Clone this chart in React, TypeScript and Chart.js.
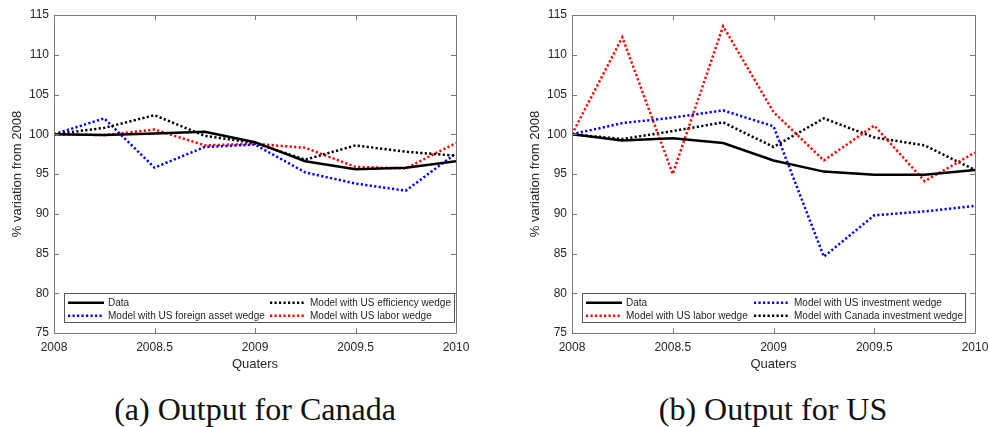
import React, { useEffect, useRef } from "react";
import { Chart, registerables } from "chart.js";

Chart.register(...registerables);

const quarters = [2008, 2008.25, 2008.5, 2008.75, 2009, 2009.25, 2009.5, 2009.75, 2010];
const xTickValues = [2008, 2008.5, 2009, 2009.5, 2010];
const yTickValues = [75, 80, 85, 90, 95, 100, 105, 110, 115];

// Panel (a): Canada
const caData = [100, 99.9, 100.1, 100.3, 99.0, 96.6, 95.6, 95.8, 96.6];
const caEfficiency = [100, 100.8, 102.4, 99.8, 98.9, 96.8, 98.6, 97.8, 97.3];
const caForeignAsset = [100, 102.0, 95.8, 98.4, 98.7, 95.2, 93.8, 92.9, 97.6];
const caLabor = [100, 99.9, 100.6, 98.6, 98.8, 98.3, 95.9, 95.7, 98.9];

// Panel (b): US
const usData = [100, 99.2, 99.5, 98.9, 96.7, 95.3, 94.9, 94.9, 95.5];
const usInvestment = [100, 101.4, 102.1, 103.0, 101.0, 84.6, 89.8, 90.3, 91.0];
const usLabor = [100, 112.2, 95.0, 113.6, 102.8, 96.7, 101.1, 94.1, 97.7];
const usCanadaInvestment = [100, 99.4, 100.4, 101.5, 98.4, 102.0, 99.6, 98.6, 95.5];

const caLabels = ["Data", "Model with US efficiency wedge", "Model with US foreign asset wedge", "Model with US labor wedge"];
const usLabels = ["Data", "Model with US investment wedge", "Model with US labor wedge", "Model with Canada investment wedge"];

const TXT = "#262626";
const FONT = "'Liberation Sans', Arial, sans-serif";
const DOT = [2.2, 2.3];

type SeriesDef = { label: string; values: number[]; color: string; dashed: boolean };

function toPoints(vals: number[]) {
  return quarters.map((q, i) => ({ x: q, y: vals[i] }));
}

type PanelProps = {
  series: SeriesDef[];
  legendOrder: number[];
  width: number;
  height: number;
  padLeft: number;
  padRight: number;
  legendCol2: number;
  legendRightInset: number;
};

function Panel(props: PanelProps) {
  const ref = useRef<HTMLCanvasElement | null>(null);
  useEffect(() => {
    const canvas = ref.current!;
    const frame = {
      id: "matlabFrame",
      afterDatasetsDraw(chart: any) {
        const { ctx, chartArea } = chart;
        const { left, right, top, bottom } = chartArea;
        const xs = chart.scales.x;
        const ys = chart.scales.y;
        ctx.save();
        ctx.strokeStyle = "#7a7a7a";
        ctx.lineWidth = 1;
        ctx.beginPath();
        ctx.rect(Math.round(left) + 0.5, Math.round(top) + 0.5, Math.round(right - left), Math.round(bottom - top));
        ctx.stroke();
        const tl = 5;
        ctx.beginPath();
        for (const v of xTickValues) {
          const px = Math.round(xs.getPixelForValue(v)) + 0.5;
          ctx.moveTo(px, bottom);
          ctx.lineTo(px, bottom - tl);
          ctx.moveTo(px, top);
          ctx.lineTo(px, top + tl);
        }
        for (const v of yTickValues) {
          const py = Math.round(ys.getPixelForValue(v)) + 0.5;
          ctx.moveTo(left, py);
          ctx.lineTo(left + tl, py);
          ctx.moveTo(right, py);
          ctx.lineTo(right - tl, py);
        }
        ctx.stroke();

        // axis titles
        ctx.fillStyle = TXT;
        ctx.font = `13px ${FONT}`;
        ctx.textAlign = "center";
        ctx.textBaseline = "middle";
        ctx.fillText("Quaters", (left + right) / 2, bottom + 31);
        ctx.save();
        ctx.translate(left - 37, (top + bottom) / 2);
        ctx.rotate(-Math.PI / 2);
        ctx.fillText("% variation from 2008", 0, 0);
        ctx.restore();

        // legend
        const bx = left + 10;
        const by = ys.getPixelForValue(80);
        const bw = right - props.legendRightInset - bx;
        const bh = 29;
        ctx.fillStyle = "#ffffff";
        ctx.fillRect(bx, by, bw, bh);
        ctx.strokeStyle = "#555555";
        ctx.lineWidth = 1;
        ctx.strokeRect(Math.round(bx) + 0.5, Math.round(by) + 0.5, Math.round(bw), Math.round(bh));
        const rows = [by + 9.5, by + 22.5];
        const cols = [left + 14, left + props.legendCol2];
        ctx.font = `10px ${FONT}`;
        ctx.textAlign = "left";
        props.legendOrder.forEach((si, k) => {
          const s = props.series[si];
          const r = Math.floor(k / 2);
          const c = k % 2;
          const x0 = cols[c];
          const y0 = rows[r];
          ctx.strokeStyle = s.color;
          ctx.lineWidth = 2.5;
          ctx.setLineDash(s.dashed ? DOT : []);
          ctx.beginPath();
          ctx.moveTo(x0, y0);
          ctx.lineTo(x0 + 36, y0);
          ctx.stroke();
          ctx.setLineDash([]);
          ctx.fillStyle = TXT;
          ctx.fillText(s.label, x0 + 40, y0 + 0.5);
        });
        ctx.restore();
      },
    };

    const chart = new Chart(canvas, {
      type: "line",
      data: {
        datasets: props.series.map((s) => ({
          label: s.label,
          data: toPoints(s.values),
          borderColor: s.color,
          backgroundColor: s.color,
          borderWidth: 2.5,
          borderDash: s.dashed ? DOT : [],
          pointRadius: 0,
          tension: 0,
          fill: false,
        })),
      },
      options: {
        animation: false,
        responsive: false,
        devicePixelRatio: 1,
        layout: { padding: { left: props.padLeft, right: props.padRight, top: 15, bottom: 0 } },
        plugins: { legend: { display: false }, tooltip: { enabled: false } },
        scales: {
          x: {
            type: "linear",
            min: 2008,
            max: 2010,
            grid: { display: false, drawTicks: false },
            border: { display: false },
            ticks: {
              stepSize: 0.5,
              padding: 7,
              color: TXT,
              font: { family: FONT, size: 12 },
              maxRotation: 0,
              callback: (v: any) => String(v),
            },
            afterFit: (s: any) => {
              s.height = 47;
              s.paddingLeft = 0;
              s.paddingRight = 0;
            },
          },
          y: {
            min: 75,
            max: 115,
            grid: { display: false, drawTicks: false },
            border: { display: false },
            ticks: {
              stepSize: 5,
              padding: 5,
              color: TXT,
              font: { family: FONT, size: 12 },
            },
            afterFit: (s: any) => {
              s.width = 54;
              s.paddingTop = 0;
              s.paddingBottom = 0;
            },
          },
        },
      },
      plugins: [frame],
    } as any);
    return () => chart.destroy();
  }, []);
  return <canvas ref={ref} width={props.width} height={props.height} style={{ display: "block" }} />;
}

const captionStyle: React.CSSProperties = {
  position: "absolute",
  top: 391,
  fontFamily: "'Liberation Serif', 'DejaVu Serif', serif",
  fontSize: 32,
  color: "#111",
  textAlign: "center",
  whiteSpace: "nowrap",
  lineHeight: "36px",
};

export default function App() {
  const caSeries: SeriesDef[] = [
    { label: caLabels[0], values: caData, color: "#000000", dashed: false },
    { label: caLabels[1], values: caEfficiency, color: "#000000", dashed: true },
    { label: caLabels[2], values: caForeignAsset, color: "#0000ff", dashed: true },
    { label: caLabels[3], values: caLabor, color: "#ff0000", dashed: true },
  ];
  const usSeries: SeriesDef[] = [
    { label: usLabels[0], values: usData, color: "#000000", dashed: false },
    { label: usLabels[1], values: usInvestment, color: "#0000ff", dashed: true },
    { label: usLabels[2], values: usLabor, color: "#ff0000", dashed: true },
    { label: usLabels[3], values: usCanadaInvestment, color: "#000000", dashed: true },
  ];
  return (
    <div style={{ position: "fixed", left: 0, top: 0, width: 989, height: 427, background: "#fff", overflow: "hidden" }}>
      <div style={{ position: "absolute", left: 0, top: 0 }}>
        <Panel series={caSeries} legendOrder={[0, 1, 2, 3]} width={490} height={380} padLeft={0} padRight={34} legendCol2={216} legendRightInset={2} />
      </div>
      <div style={{ position: "absolute", left: 495, top: 0 }}>
        <Panel series={usSeries} legendOrder={[0, 1, 2, 3]} width={494} height={380} padLeft={23} padRight={14} legendCol2={182} legendRightInset={10} />
      </div>
      <div style={{ ...captionStyle, left: 55, width: 400 }}>(a) Output for Canada</div>
      <div style={{ ...captionStyle, left: 573, width: 400 }}>(b) Output for US</div>
    </div>
  );
}
